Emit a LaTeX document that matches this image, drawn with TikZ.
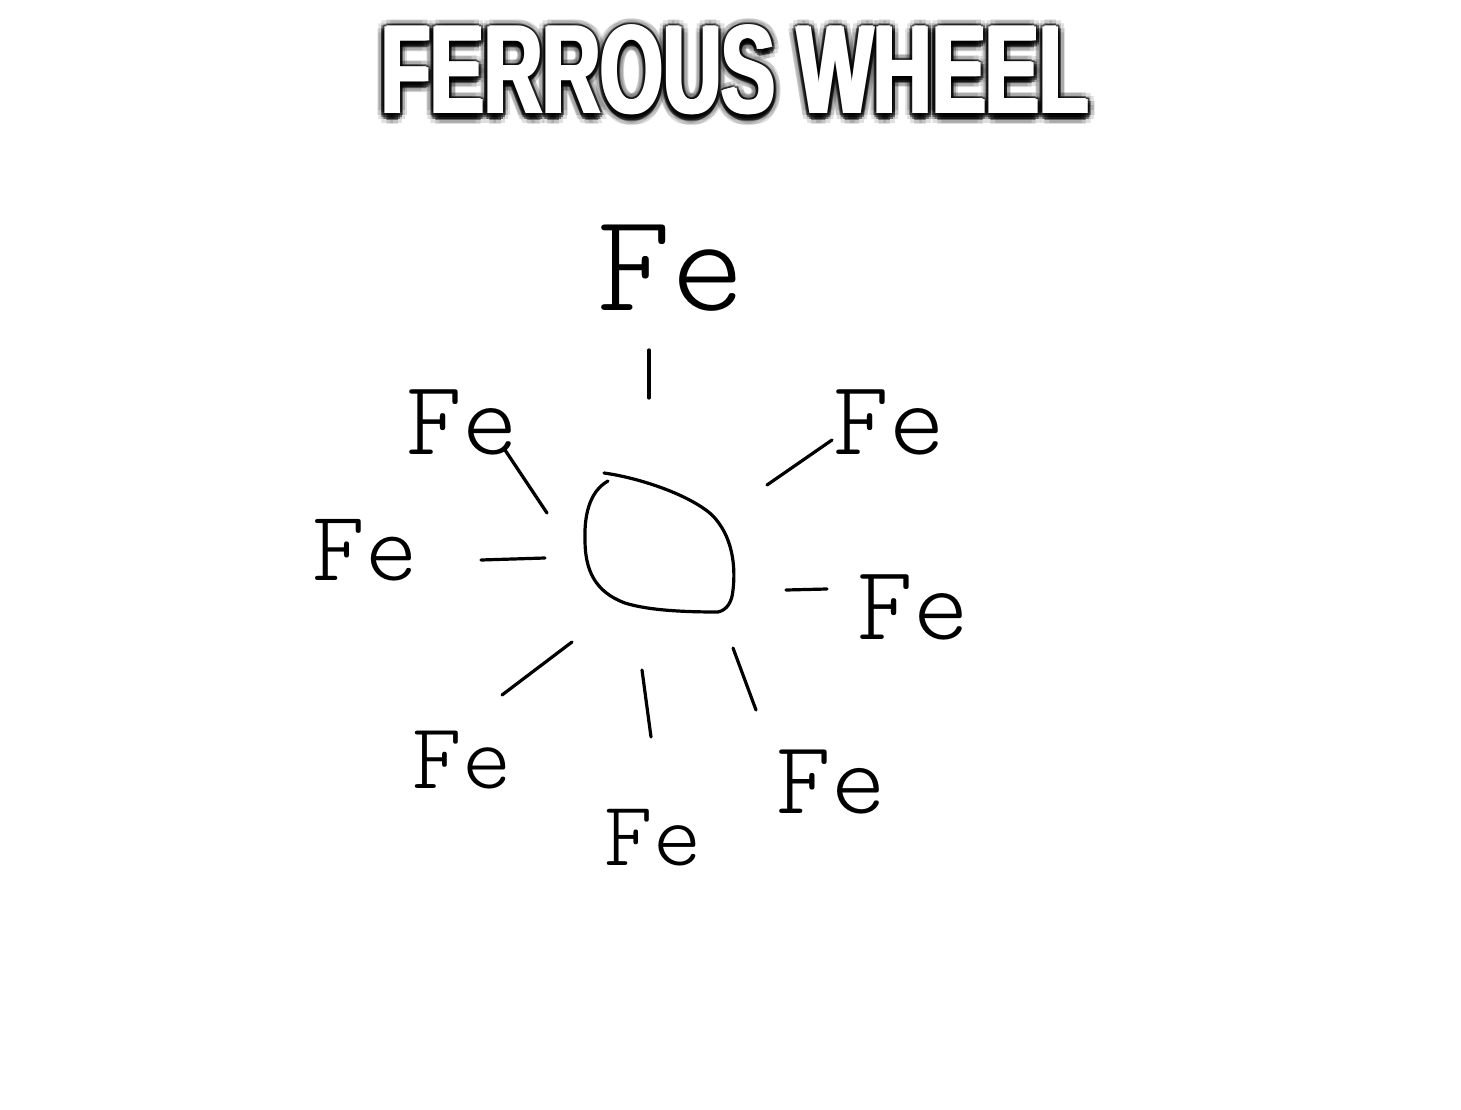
\documentclass[tikz,border=0pt]{standalone}
\usepackage{fontspec}
\newfontfamily\titlefont{Liberation Sans Bold}
\newfontfamily\hand{lmmonolt10-regular.otf}
\begin{document}
\begin{tikzpicture}[x=1pt,y=-1pt,
  stroke/.style={line width=3.2pt,line cap=round,line join=round,black},
  fe/.style={font=\hand, inner sep=0pt, text=black},
  ttl/.style={font=\titlefont\fontsize{126}{130}\selectfont, inner sep=0pt, xscale=0.64, transform shape}]
\useasboundingbox (0,0) rectangle (1461,1110);
\fill[white] (0,0) rectangle (1461,1110);
% title: soft black glow, then heavy white letters
\foreach \a in {0,30,...,330}{
  \node[ttl, text=black, opacity=0.12] at ([shift={(\a:9)}]735,72) {FERROUS WHEEL};
  \node[ttl, text=black, opacity=0.45] at ([shift={(\a:5)}]735,72) {FERROUS WHEEL};
}
\foreach \dx in {-2,0,2}{
  \node[ttl, text=white] at ([shift={(\dx,0)}]735,70) {FERROUS WHEEL};
}
\node[ttl, text=white] (title) at (735,69) {FERROUS WHEEL};
% hub
\node[inner sep=0pt, minimum size=1pt] (hub) at (660,545) {};
\draw[stroke] (604,473) .. controls (640,478) and (690,495) .. (712,515)
  .. controls (732,535) and (736,565) .. (733,590)
  .. controls (732,602) and (727,610) .. (718,612)
  .. controls (690,612) and (650,611) .. (625,603)
  .. controls (595,592) and (585,570) .. (585,540)
  .. controls (584,510) and (592,490) .. (608,481);
% labels
\node[fe, font=\hand\fontsize{140}{140}\selectfont] (fe1) at (671,268) {Fe};
\node[fe, font=\hand\fontsize{106}{106}\selectfont] (fe2) at (889,422) {Fe};
\node[fe, font=\hand\fontsize{106}{106}\selectfont] (fe3) at (913,607) {Fe};
\node[fe, font=\hand\fontsize{104}{104}\selectfont] (fe4) at (831,782) {Fe};
\node[fe, font=\hand\fontsize{92}{92}\selectfont] (fe5) at (653,838) {Fe};
\node[fe, font=\hand\fontsize{94}{94}\selectfont] (fe6) at (462,760) {Fe};
\node[fe, font=\hand\fontsize{100}{100}\selectfont] (fe7) at (365,550) {Fe};
\node[fe, font=\hand\fontsize{106}{106}\selectfont] (fe8) at (462,422) {Fe};
% spokes
\coordinate (s1a) at (649,350); \coordinate (s1b) at (649,398);
\coordinate (s2a) at (767,485); \coordinate (s2b) at (832,440);
\coordinate (s3a) at (786,590); \coordinate (s3b) at (827,589);
\coordinate (s4a) at (733,648); \coordinate (s4b) at (756,710);
\coordinate (s5a) at (642,670); \coordinate (s5b) at (651,737);
\coordinate (s6a) at (572,642); \coordinate (s6b) at (502,695);
\coordinate (s7a) at (481,560); \coordinate (s7b) at (545,558);
\coordinate (s8a) at (505,450); \coordinate (s8b) at (547,513);
\foreach \i in {1,...,8}{\draw[stroke] (s\i a) -- (s\i b);}
\end{tikzpicture}
\end{document}
